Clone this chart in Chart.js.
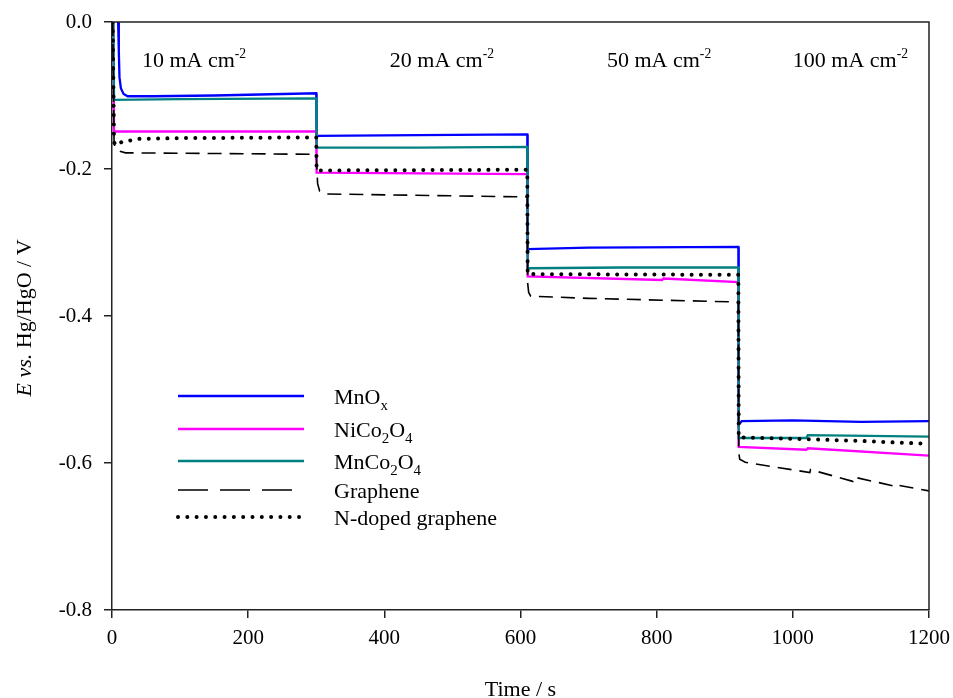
<!DOCTYPE html>
<html>
<head>
<meta charset="utf-8">
<script src="https://cdn.jsdelivr.net/npm/chart.js@4/dist/chart.umd.min.js"></script>
<style>
  html, body { margin: 0; padding: 0; background: #fff; }
  canvas { display: block; }
</style>
</head>
<body>
<canvas id="potChart" width="953" height="698"></canvas>
<script>
// Time (s) and potential (V vs. Hg/HgO)
const tMnOx = [9, 10, 11, 13, 17, 23, 60, 150, 300, 300.5, 450, 610, 610.5, 700, 920, 920.5, 925, 1000, 1100, 1200];
const eMnOx = [0, -0.04, -0.075, -0.09, -0.098, -0.101, -0.101, -0.100, -0.097, -0.155, -0.154, -0.153, -0.309, -0.307, -0.306, -0.548, -0.543, -0.542, -0.544, -0.543];

const tNiCo = [2, 3, 300, 300.5, 610, 610.5, 808, 810, 920, 920.5, 1020, 1022, 1200];
const eNiCo = [0, -0.149, -0.149, -0.205, -0.207, -0.346, -0.351, -0.349, -0.354, -0.578, -0.582, -0.580, -0.590];

const tMnCo = [2, 3, 100, 300, 300.5, 450, 610, 610.5, 750, 920, 920.5, 1020, 1022, 1200];
const eMnCo = [0, -0.106, -0.105, -0.104, -0.171, -0.171, -0.170, -0.335, -0.334, -0.334, -0.566, -0.566, -0.562, -0.564];

const tGraph = [1, 3, 4, 8, 20, 300, 302, 305, 315, 610, 610.5, 612, 615, 700, 920, 920.5, 922, 930, 1025, 1026, 1088, 1089, 1147, 1148, 1200];
const eGraph = [0, -0.160, -0.170, -0.175, -0.178, -0.180, -0.220, -0.230, -0.234, -0.238, -0.355, -0.368, -0.373, -0.376, -0.381, -0.585, -0.595, -0.599, -0.613, -0.609, -0.625, -0.619, -0.631, -0.629, -0.638];

const tNGraph = [1, 3, 5, 15, 40, 100, 300, 300.5, 610, 610.5, 920, 920.5, 1000, 1100, 1200];
const eNGraph = [0, -0.163, -0.168, -0.163, -0.159, -0.158, -0.157, -0.202, -0.201, -0.343, -0.344, -0.565, -0.567, -0.570, -0.574];

// current density labels and where they sit (time, potential)
const densityLabels = ['10', '20', '50', '100'];
const densityT = [44, 408, 727, 1000];
const densityE = -0.05;

const xTicks = [0, 200, 400, 600, 800, 1000, 1200];
const yTicks = [0, -0.2, -0.4, -0.6, -0.8];

const FONT = "'Liberation Serif', 'Times New Roman', serif";

function zip(t, e) {
  return t.map((v, i) => ({ x: v, y: e[i] }));
}

// legend entries: text parts (sub = subscript)
const legendItems = [
  { parts: [['MnO'], ['x', 'sub']], color: '#0000ff', width: 2.3, dash: [] },
  { parts: [['NiCo'], ['2', 'sub'], ['O'], ['4', 'sub']], color: '#ff00ff', width: 2.3, dash: [] },
  { parts: [['MnCo'], ['2', 'sub'], ['O'], ['4', 'sub']], color: '#008080', width: 2.3, dash: [] },
  { parts: [['Graphene']], color: '#000', width: 1.6, dash: [30, 12] },
  { parts: [['N-doped graphene']], color: '#000', width: 4, dash: [0.01, 9.3], cap: 'round' }
];

function drawRich(ctx, parts, x, y, size) {
  let cx = x;
  parts.forEach(p => {
    const kind = p[1] || '';
    let s = size, dy = 0, style = '';
    if (kind === 'sub') { s = size * 0.68; dy = size * 0.28; }
    if (kind === 'sup') { s = size * 0.62; dy = -size * 0.38; }
    if (kind === 'italic') { style = 'italic '; }
    ctx.font = style + s + 'px ' + FONT;
    ctx.fillText(p[0], cx, y + dy);
    cx += ctx.measureText(p[0]).width;
  });
  return cx - x;
}

function measureRich(ctx, parts, size) {
  let w = 0;
  parts.forEach(p => {
    const kind = p[1] || '';
    let s = size, style = '';
    if (kind === 'sub') s = size * 0.68;
    if (kind === 'sup') s = size * 0.62;
    if (kind === 'italic') style = 'italic ';
    ctx.font = style + s + 'px ' + FONT;
    w += ctx.measureText(p[0]).width;
  });
  return w;
}

const decorPlugin = {
  id: 'decor',
  afterDraw(chart) {
    const ctx = chart.ctx;
    const area = chart.chartArea;
    const xs = chart.scales.x;
    const ys = chart.scales.y;
    ctx.save();

    // frame top/right
    ctx.strokeStyle = '#222';
    ctx.lineWidth = 1.5;
    ctx.beginPath();
    ctx.moveTo(area.left, area.top);
    ctx.lineTo(area.right, area.top);
    ctx.lineTo(area.right, area.bottom);
    ctx.stroke();

    ctx.fillStyle = '#000';
    ctx.textBaseline = 'alphabetic';
    ctx.textAlign = 'left';

    // current density labels
    densityLabels.forEach((lab, i) => {
      const px = xs.getPixelForValue(densityT[i]);
      const py = ys.getPixelForValue(densityE) + 8;
      drawRich(ctx, [[lab + ' mA cm'], ['-2', 'sup']], px, py, 22);
    });

    // axis titles
    const xt = [['Time / s']];
    const xw = measureRich(ctx, xt, 22);
    drawRich(ctx, xt, (area.left + area.right) / 2 - xw / 2, 696, 22);

    const yt = [['E', 'italic'], [' vs.', 'italic'], [' Hg/HgO / V']];
    const yw = measureRich(ctx, yt, 22);
    ctx.save();
    ctx.translate(31, (area.top + area.bottom) / 2 + 2);
    ctx.rotate(-Math.PI / 2);
    drawRich(ctx, yt, -yw / 2, 0, 22);
    ctx.restore();

    // legend
    const rows = [396, 429, 461, 490, 517];
    legendItems.forEach((it, i) => {
      const y = rows[i];
      ctx.save();
      ctx.strokeStyle = it.color;
      ctx.lineWidth = it.width;
      ctx.setLineDash(it.dash);
      ctx.lineCap = it.cap || 'butt';
      ctx.beginPath();
      ctx.moveTo(178, y);
      ctx.lineTo(304, y);
      ctx.stroke();
      ctx.restore();
      ctx.fillStyle = '#000';
      drawRich(ctx, it.parts, 334, y + 7.5, 22);
    });

    ctx.restore();
  }
};

const ctx = document.getElementById('potChart');

new Chart(ctx, {
  type: 'scatter',
  data: {
    datasets: [
      {
        label: 'N-doped graphene',
        data: zip(tNGraph, eNGraph),
        showLine: true,
        borderColor: '#000',
        borderWidth: 4,
        borderDash: [0.01, 9.3],
        borderCapStyle: 'round',
        pointRadius: 0,
        order: 0
      },
      {
        label: 'Graphene',
        data: zip(tGraph, eGraph),
        showLine: true,
        borderColor: '#000',
        borderWidth: 1.6,
        borderDash: [14, 8],
        pointRadius: 0,
        order: 1
      },
      {
        label: 'MnCo2O4',
        data: zip(tMnCo, eMnCo),
        showLine: true,
        borderColor: '#008080',
        borderWidth: 2.3,
        pointRadius: 0,
        order: 2
      },
      {
        label: 'NiCo2O4',
        data: zip(tNiCo, eNiCo),
        showLine: true,
        borderColor: '#ff00ff',
        borderWidth: 2.3,
        pointRadius: 0,
        order: 3
      },
      {
        label: 'MnOx',
        data: zip(tMnOx, eMnOx),
        showLine: true,
        borderColor: '#0000ff',
        borderWidth: 2.3,
        pointRadius: 0,
        order: 4
      }
    ]
  },
  options: {
    responsive: false,
    animation: false,
    layout: {
      padding: { top: 22, right: 24, left: 0, bottom: 0 }
    },
    plugins: {
      legend: { display: false },
      tooltip: { enabled: false }
    },
    scales: {
      x: {
        type: 'linear',
        min: 0,
        max: 1200,
        afterBuildTicks: scale => { scale.ticks = xTicks.map(v => ({ value: v })); },
        afterFit: scale => {
          scale.height = 88;
          scale.paddingLeft = 0;
          scale.paddingRight = 0;
        },
        grid: {
          drawOnChartArea: false,
          drawTicks: true,
          tickLength: 8,
          color: '#222',
          lineWidth: 1.5
        },
        border: { display: true, color: '#222', width: 1.5 },
        ticks: {
          color: '#000',
          padding: 8,
          maxRotation: 0,
          font: { family: FONT, size: 21 },
          callback: v => String(v)
        }
      },
      y: {
        type: 'linear',
        min: -0.8,
        max: 0,
        afterBuildTicks: scale => { scale.ticks = yTicks.map(v => ({ value: v })); },
        afterFit: scale => {
          scale.width = 112;
          scale.paddingTop = 0;
          scale.paddingBottom = 0;
        },
        grid: {
          drawOnChartArea: false,
          drawTicks: true,
          tickLength: 8,
          color: '#222',
          lineWidth: 1.5
        },
        border: { display: true, color: '#222', width: 1.5 },
        ticks: {
          color: '#000',
          padding: 12,
          font: { family: FONT, size: 21 },
          callback: v => v.toFixed(1)
        }
      }
    }
  },
  plugins: [decorPlugin]
});
</script>
</body>
</html>
